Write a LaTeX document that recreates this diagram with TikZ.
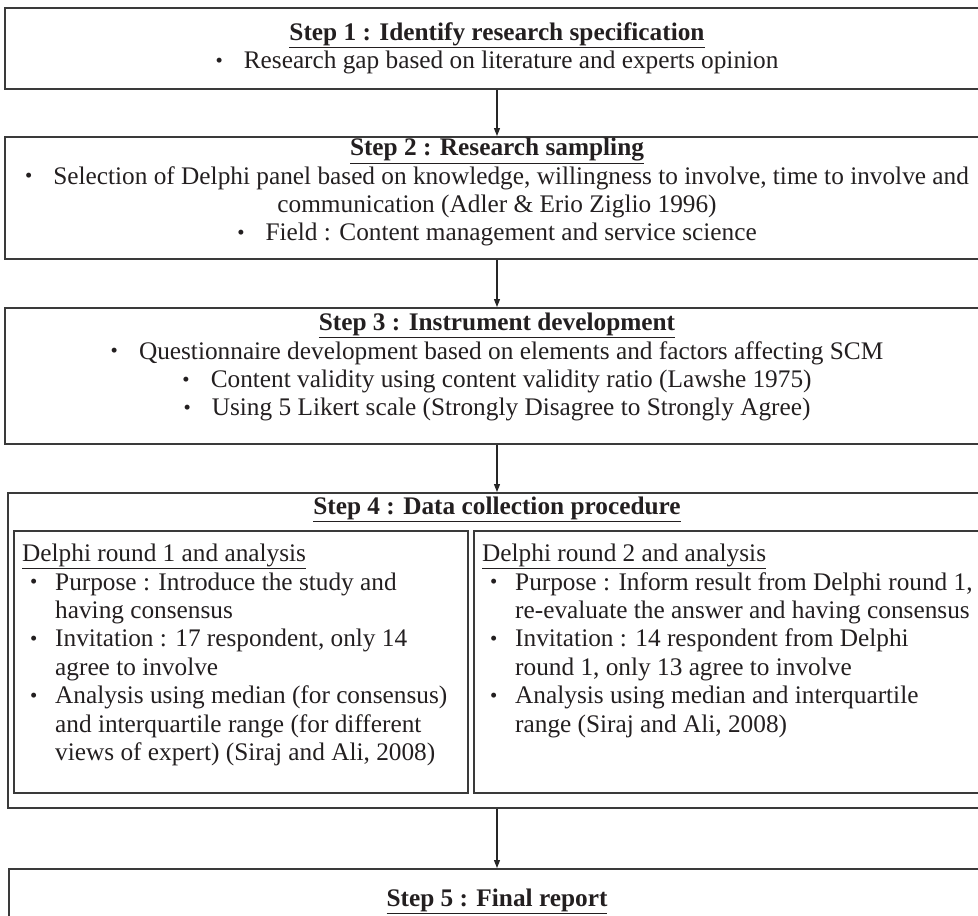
\documentclass[tikz,border=0pt]{standalone}
\usepackage{fontspec}
\setmainfont{Liberation Serif}
\usetikzlibrary{arrows.meta,positioning}

\definecolor{inkgray}{HTML}{231F20}
\definecolor{framegray}{HTML}{3A3A3A}
\newcommand{\stepfont}{\fontsize{25.3}{28.4}\selectfont}
\newcommand{\dotmark}{\raisebox{1.4pt}{\scalebox{0.82}{\textbullet}}}
\newcommand{\bul}{\dotmark\hspace{21pt}}
\newcommand{\ibul}{\makebox[33pt][l]{\hspace{8pt}\dotmark}}
\newcommand{\iind}{\hspace*{33pt}}

\tikzset{
  stepbox/.style={draw=framegray, line width=2pt, minimum width=984pt, inner sep=0pt, anchor=north},
  steptext/.style={align=center, anchor=north, inner sep=0pt, text=inkgray, font=\stepfont},
  roundbox/.style={draw=framegray, line width=1.5pt, anchor=north west, inner sep=0pt},
  roundtext/.style={align=left, anchor=north west, inner sep=0pt, text=inkgray, font=\stepfont},
  flow/.style={-{Triangle[length=8pt,width=6pt]}, line width=1.1pt, black!85},
}

\begin{document}
\begin{tikzpicture}[x=1pt,y=-1pt]
	%%%%% START %%%%%
	\useasboundingbox (0,0) rectangle (978,916);
	\clip (0,0) rectangle (978,916);
	
	% step boxes
	\node[stepbox, minimum height=81pt] (s1) at (497,7) {};
	\node[stepbox, minimum height=122pt] (s2) at (497,136) {};
	\node[stepbox, minimum height=136pt] (s3) at (497,307) {};
	\node[stepbox, minimum height=315pt, minimum width=978pt] (s4) at (497,492) {};
	\node[stepbox, minimum height=90pt, minimum width=976pt] (s5) at (497,868) {};
	
	\node[roundbox, minimum width=454pt, minimum height=262pt] (r1) at (13,530) {};
	\node[roundbox, minimum width=510pt, minimum height=262pt] (r2) at (473,530) {};
	
	% texts
	\node[steptext] (s1text) at (497,22)
	  {\textbf{\underline{Step 1 : Identify research specification}}\\
	   \bul Research gap based on literature and experts opinion};
	
	\node[steptext] (s2text) at (497,138)
	  {\textbf{\underline{Step 2 : Research sampling}}\\
	   \bul Selection of Delphi panel based on knowledge, willingness to involve, time to involve and\\
	   communication (Adler \& Erio Ziglio 1996)\\
	   \bul Field : Content management and service science};
	
	\node[steptext] (s3text) at (497,313)
	  {\textbf{\underline{Step 3 : Instrument development}}\\
	   \bul Questionnaire development based on elements and factors affecting SCM\\
	   \bul Content validity using content validity ratio (Lawshe 1975)\\
	   \bul Using 5 Likert scale (Strongly Disagree to Strongly Agree)};
	
	\node[steptext] (s4text) at (497,497)
	  {\textbf{\underline{Step 4 : Data collection procedure}}};
	
	\node[roundtext] (r1text) at (22,544)
	  {\underline{Delphi round 1 and analysis}\\
	   \ibul Purpose : Introduce the study and\\
	   \iind having consensus\\
	   \ibul Invitation : 17 respondent, only 14\\
	   \iind agree to involve\\
	   \ibul Analysis using median (for consensus)\\
	   \iind and interquartile range (for different\\
	   \iind views of expert) (Siraj and Ali, 2008)};
	
	\node[roundtext] (r2text) at (482,544)
	  {\underline{Delphi round 2 and analysis}\\
	   \ibul Purpose : Inform result from Delphi round 1,\\
	   \iind re-evaluate the answer and having consensus\\
	   \ibul Invitation : 14 respondent from Delphi\\
	   \iind round 1, only 13 agree to involve\\
	   \ibul Analysis using median and interquartile\\
	   \iind range (Siraj and Ali, 2008)};
	
	\node[steptext] (s5text) at (497,889)
	  {\textbf{\underline{Step 5 : Final report}}};
	
	% connectors
	\draw[flow] (s1.south) -- (s2.north);
	\draw[flow] (s2.south) -- (s3.north);
	\draw[flow] (s3.south) -- (s4.north);
	\draw[flow] (s4.south) -- (s5.north);
	
	%%%%% END %%%%%
\end{tikzpicture}
\end{document}
